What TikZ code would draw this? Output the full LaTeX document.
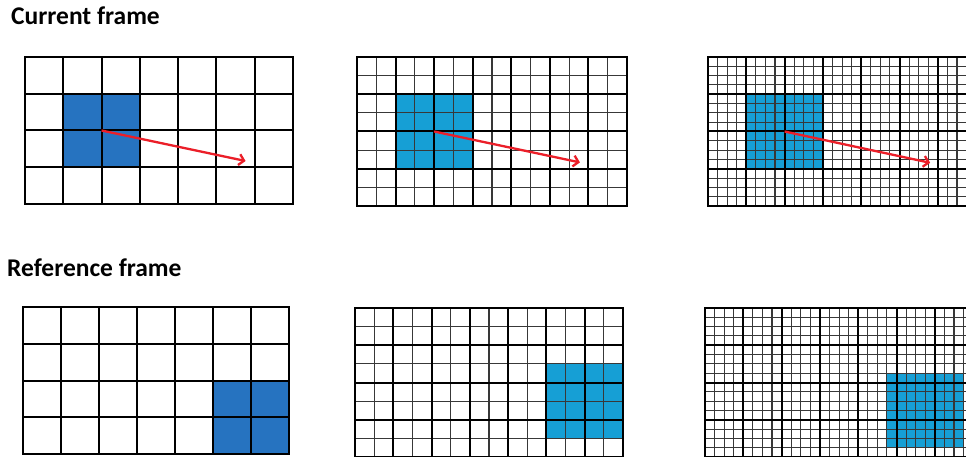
\documentclass[tikz,border=0pt]{standalone}
\usepackage{fontspec}
\setmainfont{Carlito}
\usetikzlibrary{arrows.meta}
\definecolor{dblue}{RGB}{38,115,192}
\definecolor{lblue}{RGB}{22,159,213}
\definecolor{arrred}{RGB}{235,30,40}
\tikzset{
  majorline/.style={line width=2pt, line cap=rect, black},
  minorline/.style={line width=1.1pt, black!78},
  mvarrow/.style={arrred, line width=2.3pt, -{Straight Barb[length=5pt,width=11pt]}},
  title/.style={font=\fontsize{25.5}{30}\selectfont\bfseries, anchor=base west, inner sep=0pt}
}
\newcommand\mygridlines[1]{%
  \ifnum#1>1\relax
    \pgfmathtruncatemacro\nx{7*#1}\pgfmathtruncatemacro\ny{4*#1}%
    \foreach \i in {0,...,\nx} \draw[minorline] (\i/#1,0) -- (\i/#1,4);
    \foreach \j in {0,...,\ny} \draw[minorline] (0,\j/#1) -- (7,\j/#1);
  \fi
  \foreach \i in {0,...,7} \draw[majorline] (\i,0) -- (\i,4);
  \foreach \j in {0,...,4} \draw[majorline] (0,\j) -- (7,\j);
}
\begin{document}
\begin{tikzpicture}[x=1pt,y=-1pt]
\useasboundingbox (0,0) rectangle (966,457);
\fill[white] (0,0) rectangle (966,457);
\clip (0,0) rectangle (966,457);
\node[title] (cur) at (11,25) {Current frame};
\node[title] (ref) at (7,276) {Reference frame};
% current frame grids
\begin{scope}[shift={(25,57)}, x=38.29pt, y=-36.75pt]
  \fill[dblue] (1,1) rectangle (3,3);
  \mygridlines{1}
  \coordinate (a1) at (2,2); \coordinate (b1) at (5.76,2.83);
  \draw[mvarrow] (a1) -- (b1);
\end{scope}
\begin{scope}[shift={(357,57)}, x=38.57pt, y=-37.25pt]
  \fill[lblue] (1,1) rectangle (3,3);
  \mygridlines{2}
  \coordinate (a2) at (2,2); \coordinate (b2) at (5.78,2.83);
  \draw[mvarrow] (a2) -- (b2);
\end{scope}
\begin{scope}[shift={(708,57)}, x=38.3pt, y=-37.25pt]
  \fill[lblue] (1,1) rectangle (3,3);
  \mygridlines{4}
  \coordinate (a3) at (2,2); \coordinate (b3) at (5.8,2.84);
  \draw[mvarrow] (a3) -- (b3);
\end{scope}
% reference frame grids
\begin{scope}[shift={(23,307)}, x=38pt, y=-36.75pt]
  \fill[dblue] (5,2) rectangle (7,4);
  \mygridlines{1}
\end{scope}
\begin{scope}[shift={(355,308)}, x=38.29pt, y=-37.25pt]
  \fill[lblue] (5,1.5) rectangle (7,3.5);
  \mygridlines{2}
\end{scope}
\begin{scope}[shift={(705,308)}, x=38.3pt, y=-37.25pt]
  \fill[lblue] (4.75,1.75) rectangle (6.75,3.75);
  \mygridlines{4}
\end{scope}
\end{tikzpicture}
\end{document}
